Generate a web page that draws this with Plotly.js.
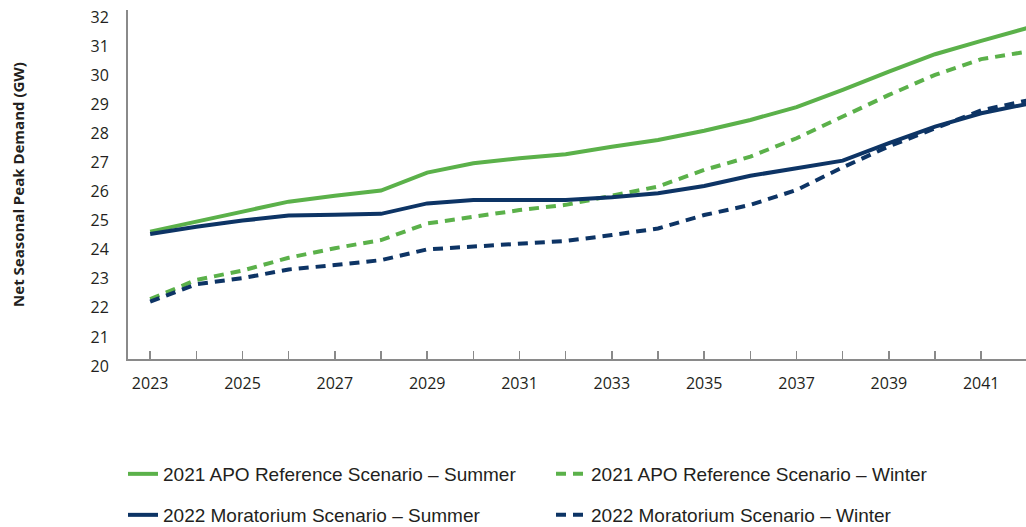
<!DOCTYPE html>
<html>
<head>
<meta charset="utf-8">
<script src="https://cdn.plot.ly/plotly-3.0.1.min.js"></script>
<style>
  html, body { margin: 0; padding: 0; background: #ffffff; }
  #chart { width: 1026px; height: 527px; }
</style>
</head>
<body>
<div id="chart"></div>
<script>
// values (GW)
const years = [2023, 2024, 2025, 2026, 2027, 2028, 2029, 2030, 2031, 2032,
               2033, 2034, 2035, 2036, 2037, 2038, 2039, 2040, 2041, 2042];

const apoSummer = [24.38, 24.72, 25.07, 25.41, 25.61, 25.79, 26.41, 26.73, 26.90, 27.04,
                   27.30, 27.53, 27.85, 28.22, 28.66, 29.25, 29.88, 30.48, 30.94, 31.38];
const apoWinter = [22.06, 22.72, 23.04, 23.48, 23.81, 24.09, 24.66, 24.89, 25.12, 25.30,
                   25.61, 25.93, 26.50, 26.96, 27.59, 28.33, 29.08, 29.77, 30.31, 30.57];
const morSummer = [24.30, 24.55, 24.76, 24.93, 24.96, 24.99, 25.35, 25.47, 25.47, 25.47,
                   25.56, 25.70, 25.95, 26.30, 26.56, 26.82, 27.42, 27.99, 28.45, 28.77];
const morWinter = [21.97, 22.57, 22.78, 23.08, 23.23, 23.40, 23.77, 23.86, 23.98, 24.06,
                   24.26, 24.49, 24.95, 25.30, 25.81, 26.59, 27.31, 27.94, 28.55, 28.89];

const seriesNames = [
  '2021 APO Reference Scenario – Summer',
  '2021 APO Reference Scenario – Winter',
  '2022 Moratorium Scenario – Summer',
  '2022 Moratorium Scenario – Winter'
];

const GREEN = '#5bb14a';
const NAVY = '#0d3465';
const AXIS_GREY = '#8a8a8a';
const TEXT = '#231f20';
const FONT = '"Open Sans", "DejaVu Sans", sans-serif';
const LEGEND_FONT = '"Liberation Sans", Arial, sans-serif';

const seriesValues = [apoSummer, apoWinter, morSummer, morWinter];
const seriesColors = [GREEN, GREEN, NAVY, NAVY];
const seriesDash = ['solid', '10px,7px', 'solid', '10px,7px'];
const legendIds = ['legend', 'legend2', 'legend3', 'legend4'];

// winter lines first so the summer lines sit on top
const drawOrder = [1, 3, 0, 2];
const data = drawOrder.map(i => ({
  x: years,
  y: seriesValues[i],
  type: 'scatter',
  mode: 'lines',
  name: seriesNames[i],
  legend: legendIds[i],
  line: { color: seriesColors[i], width: 4, dash: seriesDash[i] },
  hoverinfo: 'skip'
}));

const legendBase = {
  orientation: 'h',
  xref: 'container',
  yref: 'container',
  xanchor: 'left',
  yanchor: 'middle',
  bgcolor: 'rgba(0,0,0,0)',
  font: { family: LEGEND_FONT, size: 19, color: TEXT }
};

const layout = {
  width: 1026,
  height: 527,
  paper_bgcolor: '#ffffff',
  plot_bgcolor: '#ffffff',
  margin: { l: 128, r: 0, t: 10, b: 168 },
  showlegend: true,
  font: { family: FONT, size: 16, color: TEXT },
  xaxis: {
    range: [2022.52, 2041.97],
    tick0: 2023,
    dtick: 2,
    ticks: 'inside',
    ticklen: 8,
    tickwidth: 1.5,
    tickcolor: AXIS_GREY,
    ticklabelstandoff: 9,
    minor: { tick0: 2023, dtick: 1, ticks: 'inside', ticklen: 8, tickwidth: 1.5, tickcolor: AXIS_GREY },
    showline: true,
    linecolor: AXIS_GREY,
    linewidth: 2,
    showgrid: false,
    zeroline: false,
    tickfont: { family: FONT, size: 16, color: TEXT }
  },
  yaxis: {
    range: [20, 32],
    tick0: 20,
    dtick: 1,
    ticks: '',
    ticklabelstandoff: 14,
    ticklabelshift: 7,
    ticklabeloverflow: 'allow',
    showline: true,
    linecolor: AXIS_GREY,
    linewidth: 2,
    showgrid: false,
    zeroline: false,
    tickfont: { family: FONT, size: 16, color: TEXT },
    title: {
      text: 'Net Seasonal Peak Demand (GW)',
      standoff: 62,
      font: { family: FONT, size: 15, color: TEXT, weight: 'bold' }
    },
    automargin: false
  },
  legend: Object.assign({}, legendBase, { x: 123 / 1026, y: 1 - 474 / 527 }),
  legend2: Object.assign({}, legendBase, { x: 551 / 1026, y: 1 - 474 / 527 }),
  legend3: Object.assign({}, legendBase, { x: 123 / 1026, y: 1 - 515 / 527 }),
  legend4: Object.assign({}, legendBase, { x: 551 / 1026, y: 1 - 515 / 527 })
};

Plotly.newPlot('chart', data, layout, { displayModeBar: false, staticPlot: true });
</script>
</body>
</html>
